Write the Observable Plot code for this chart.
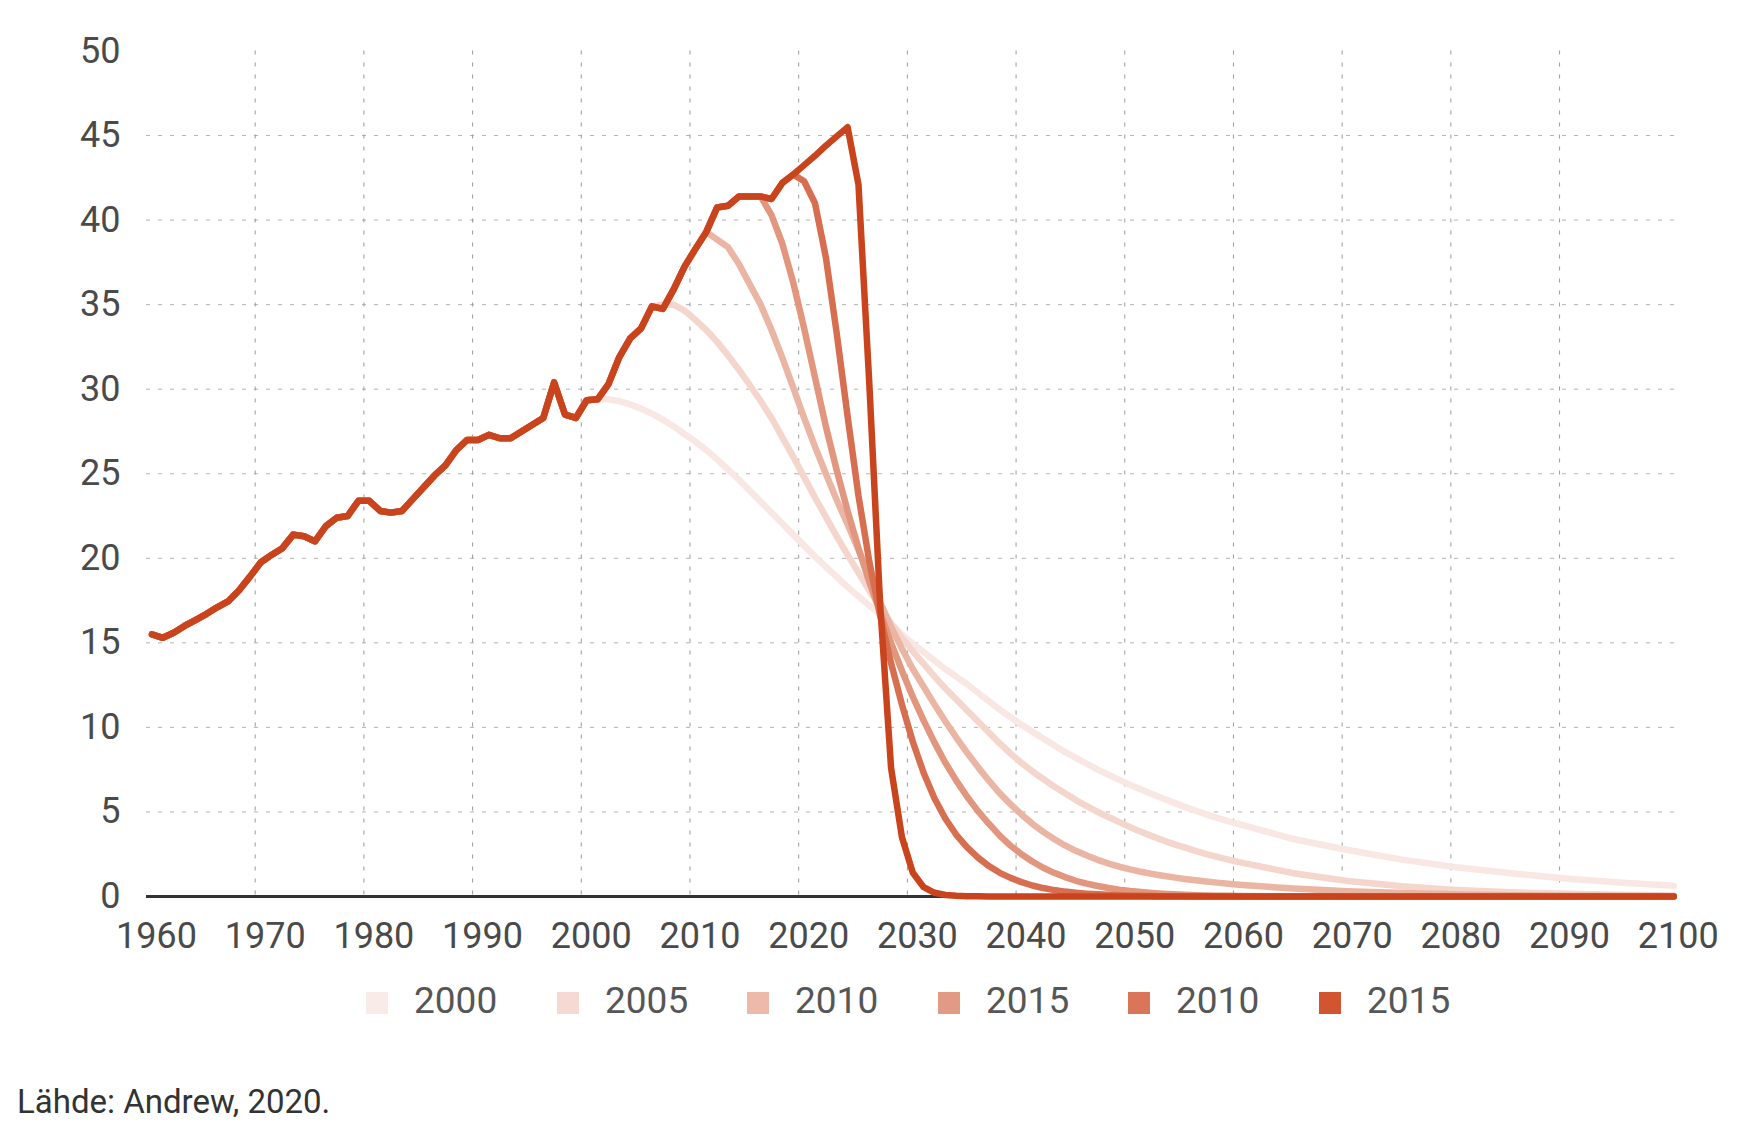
<!DOCTYPE html>
<html>
<head>
<meta charset="utf-8">
<script src="https://cdn.jsdelivr.net/npm/d3@7"></script>
<script src="https://cdn.jsdelivr.net/npm/@observablehq/plot@0.6"></script>
<style>
  html, body { margin: 0; padding: 0; background: #ffffff; }
  body { width: 1737px; height: 1131px; position: relative; overflow: hidden; font-family: Roboto, sans-serif; }
  #chart { position: absolute; left: 0; top: 0; }
  .sq { position: absolute; width: 22px; height: 22px; top: 992px; }
  .lab { position: absolute; top: 982px; font-size: 37px; line-height: 37px; color: #565656; white-space: nowrap; }
  #caption { position: absolute; left: 17px; top: 1085px; font-size: 33px; line-height: 33px; color: #333333; white-space: nowrap; }
</style>
</head>
<body>
<div id="chart"></div>
<div id="legend"></div>
<div id="caption">Lähde: Andrew, 2020.</div>
<script>
// ---------- data ----------
const historyStart = 1960;
const history = [
  15.5, 15.3, 15.6, 16.0, 16.35, 16.7, 17.1, 17.45, 18.1, 18.9,
  19.75, 20.2, 20.6, 21.4, 21.3, 21.0, 21.9, 22.4, 22.5, 23.4,
  23.4, 22.8, 22.7, 22.8, 23.5, 24.2, 24.9, 25.5, 26.4, 27.0,
  27.0, 27.3, 27.1, 27.1, 27.5, 27.9, 28.3, 30.4, 28.5, 28.3,
  29.35, 29.4, 30.3, 31.9, 33.0, 33.6, 34.9, 34.75, 35.9, 37.25,
  38.3, 39.3, 40.75, 40.85, 41.4, 41.4, 41.4, 41.25, 42.2, 42.7
];

const legendLabels = ["2000", "2005", "2010", "2015", "2010", "2015"];
const branchYears = [2001, 2006, 2011, 2016, 2019, 2019];

// yearly projections starting the year after the branch year
const projA = [29.4, 29.3, 29.1, 28.85, 28.55, 28.2, 27.8, 27.35, 26.9, 26.4,
  25.85, 25.25, 24.65, 24.0, 23.35, 22.7, 22.05, 21.4, 20.75, 20.1,
  19.5, 18.9, 18.3, 17.75, 17.2, 16.7, 16.1, 15.5, 14.95, 14.45,
  13.95, 13.45, 13.0, 12.55, 12.05, 11.55, 11.05, 10.6, 10.15, 9.75,
  9.35, 8.95, 8.55, 8.2, 7.85, 7.5, 7.2, 6.9, 6.6, 6.33,
  6.06, 5.8, 5.55, 5.3, 5.08, 4.86, 4.65, 4.46, 4.28];
const projB = [35.0, 35.0, 34.65, 34.1, 33.5, 32.8, 32.0, 31.15, 30.25, 29.3,
  28.3, 27.15, 26.0, 24.8, 23.6, 22.45, 21.3, 20.2, 19.15, 18.1,
  17.1, 16.15, 15.3, 14.5, 13.75, 13.0, 12.3, 11.65, 11.0, 10.35,
  9.7, 9.05, 8.45, 7.9, 7.4, 6.95, 6.5, 6.1, 5.7, 5.35,
  5.0, 4.7, 4.4, 4.1, 3.83, 3.57, 3.33, 3.1, 2.9, 2.7,
  2.51, 2.34, 2.18, 2.03];
const projC = [38.85, 38.4, 37.4, 36.2, 35.0, 33.5, 31.85, 30.1, 28.3, 26.6,
  25.0, 23.45, 22.0, 20.5, 18.95, 17.4, 15.95, 14.65, 13.45, 12.4,
  11.35, 10.35, 9.4, 8.5, 7.65, 6.85, 6.1, 5.45, 4.85, 4.3,
  3.82, 3.4, 3.02, 2.7, 2.42, 2.17, 1.95, 1.76, 1.6, 1.46,
  1.34, 1.23, 1.13, 1.04, 0.96, 0.89, 0.82, 0.76, 0.7];
const projD = [40.3, 38.6, 36.3, 33.6, 30.7, 27.8, 25.2, 22.8, 20.6, 18.6,
  16.8, 15.0, 13.35, 11.8, 10.4, 9.1, 7.9, 6.85, 5.9, 5.05,
  4.3, 3.6, 3.0, 2.5, 2.07, 1.7, 1.4, 1.15, 0.93, 0.76,
  0.62, 0.5, 0.4, 0.32, 0.26, 0.21, 0.17, 0.13, 0.1, 0.08,
  0.06, 0.05, 0.04, 0.03];
const projE = [42.3, 41.0, 37.8, 33.3, 28.4, 23.7, 19.8, 16.6, 13.8, 11.35,
  9.15, 7.3, 5.8, 4.6, 3.65, 2.9, 2.3, 1.8, 1.4, 1.1,
  0.85, 0.65, 0.5, 0.38, 0.29, 0.22, 0.17, 0.13, 0.1, 0.07,
  0.05, 0.04, 0.03, 0.02, 0.01, 0.01, 0];
const projF = [43.25, 43.8, 44.4, 44.95, 45.5, 42.1, 30.3, 17.2, 7.6, 3.5,
  1.4, 0.55, 0.22, 0.09, 0.04, 0.02, 0.01, 0];

// five-yearly tail values
const tailYears = [2065, 2070, 2075, 2080, 2085, 2090, 2095, 2100];
const tailA = [3.4, 2.75, 2.18, 1.73, 1.37, 1.07, 0.83, 0.63];
const tailB = [1.38, 0.92, 0.6, 0.39, 0.25, 0.16, 0.1, 0.06];
const tailC = [0.47, 0.31, 0.2, 0.13, 0.08, 0.05, 0.03, 0.02];
const tailD = [0.01, 0, 0, 0, 0, 0, 0, 0];
const tailE = [0, 0, 0, 0, 0, 0, 0, 0];
const tailF = [0, 0, 0, 0, 0, 0, 0, 0];

const xTicks = [1960, 1970, 1980, 1990, 2000, 2010, 2020, 2030, 2040, 2050, 2060, 2070, 2080, 2090, 2100];
const xGridTicks = [1970, 1980, 1990, 2000, 2010, 2020, 2030, 2040, 2050, 2060, 2070, 2080, 2090];
const yTicks = [0, 5, 10, 15, 20, 25, 30, 35, 40, 45, 50];
const yGridTicks = [5, 10, 15, 20, 25, 30, 35, 40, 45];

// ---------- styles ----------
const lineColors = ["#f8e7e2", "#f4d6cd", "#ebb5a3", "#e1967d", "#d86e50", "#c9441c"];
const legendColors = ["#f9ebe7", "#f6d9d3", "#edb9a9", "#e39a84", "#da7559", "#d05530"];

// ---------- build series ----------
const projections = [projA, projB, projC, projD, projE, projF];
const tails = [tailA, tailB, tailC, tailD, tailE, tailF];

const series = projections.map((proj, i) => {
  const b = branchYears[i];
  const rows = history.slice(0, b - historyStart + 1).map((v, k) => ({year: historyStart + k, value: v}));
  proj.forEach((v, k) => rows.push({year: b + 1 + k, value: v}));
  tails[i].forEach((v, k) => rows.push({year: tailYears[k], value: v}));
  return rows;
});

const W = 1737, H = 970;

const chart = Plot.plot({
  width: W,
  height: H,
  marginLeft: 146,
  marginRight: 60,
  marginTop: 50.5,
  marginBottom: 74,
  style: {fontFamily: "Roboto, sans-serif", color: "#4a4a4a", background: "#ffffff", overflow: "visible"},
  x: {domain: [1960, 2100.85]},
  y: {domain: [0, 50]},
  marks: [
    Plot.gridY(yGridTicks, {stroke: "#b3b3b3", strokeOpacity: 1, strokeWidth: 1, strokeDasharray: "4,8"}),
    Plot.gridX(xGridTicks, {stroke: "#9a9a9a", strokeOpacity: 1, strokeWidth: 1, strokeDasharray: "4,8"}),
    Plot.ruleY([0], {stroke: "#333333", strokeWidth: 3}),
    ...series.map((rows, i) => Plot.line(rows, {
      x: d => d.year + 0.5,
      y: "value",
      stroke: lineColors[i],
      strokeWidth: 6.5,
      strokeLinecap: "round",
      strokeLinejoin: "round"
    })),
    Plot.axisX(xTicks, {tickSize: 0, tickPadding: 26, dx: 10, fontSize: 36, tickFormat: d => String(d), label: null}),
    Plot.axisY(yTicks, {tickSize: 0, tickPadding: 26, fontSize: 36, tickFormat: d => String(d), label: null})
  ]
});
document.getElementById("chart").appendChild(chart);

// ---------- legend ----------
const legendLeft = [366, 557, 747, 938, 1128, 1319];
const legend = document.getElementById("legend");
legendLabels.forEach((lab, i) => {
  const sq = document.createElement("div");
  sq.className = "sq";
  sq.style.left = legendLeft[i] + "px";
  sq.style.background = legendColors[i];
  legend.appendChild(sq);
  const t = document.createElement("div");
  t.className = "lab";
  t.style.left = (legendLeft[i] + 48) + "px";
  t.textContent = lab;
  legend.appendChild(t);
});
</script>
</body>
</html>
